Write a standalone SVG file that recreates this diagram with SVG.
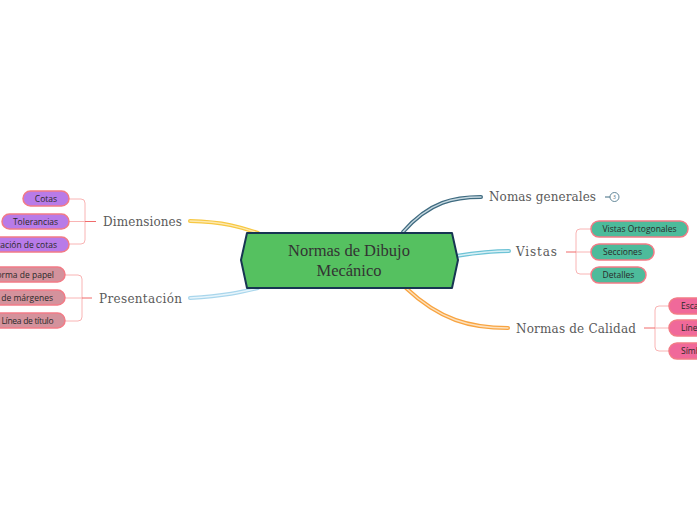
<svg xmlns="http://www.w3.org/2000/svg" width="697" height="520" viewBox="0 0 697 520">
<defs>
<style>
.bo{fill:none;stroke-width:4;stroke-linecap:round}
.bi{fill:none;stroke-width:1.4;stroke-linecap:round}
.lbl{font-family:"DejaVu Serif",serif;font-size:12px;fill:#5a5a5a}
.ct{font-family:"Open Sans","Noto Sans",sans-serif;font-size:8.5px;fill:#2a2a2a}
.br{fill:none;stroke:#f9b4b4;stroke-width:1}
.bm{fill:none;stroke:#f06b6b;stroke-width:1}
.ch{stroke:#f27b86;stroke-width:1.5}
.pu{fill:#b87be8}
.rs{fill:#d4929c}
.te{fill:#4dbb9b}
.pk{fill:#f0699a}
</style>
</defs>
<rect width="697" height="520" fill="#ffffff"/>
<g id="connectors">
<path class="bo" stroke="#f7c843" d="M190,221 C225,222 240,227 258,233"/>
<path class="bi" stroke="#fde9b0" d="M190,221 C225,222 240,227 258,233"/>
<path class="bo" stroke="#a9d6ec" d="M190,298 C225,296 242,292 258,288"/>
<path class="bi" stroke="#e6f4fb" d="M190,298 C225,296 242,292 258,288"/>
<path class="bo" stroke="#3f6b80" d="M403,232 C430,201 455,197 481,197"/>
<path class="bi" stroke="#c6d8e0" d="M403,232 C430,201 455,197 481,197"/>
<path class="bo" stroke="#6ec3d6" d="M456,256 C475,253 490,251 509,251"/>
<path class="bi" stroke="#d8f0f5" d="M456,256 C475,253 490,251 509,251"/>
<path class="bo" stroke="#f8a441" d="M406,288 C440,320 470,328 508,328"/>
<path class="bi" stroke="#fde1bd" d="M406,288 C440,320 470,328 508,328"/>
<path class="br" d="M69,199 H81 Q85,199 85,203 V240 Q85,244 81,244 H69 M69,221.5 H85"/>
<path class="bm" d="M85,221.5 H96"/>
<path class="br" d="M65,275 H78 Q82,275 82,279 V317 Q82,321 78,321 H65 M65,298 H82"/>
<path class="bm" d="M82,298 H92"/>
<path class="br" d="M591,229 H580 Q576,229 576,233 V270 Q576,274 580,274 H591 M576,252 H591"/>
<path class="bm" d="M566,252 H576"/>
<path class="br" d="M669,306 H659 Q655,306 655,310 V347 Q655,351 659,351 H669 M655,328 H669"/>
<path class="bm" d="M644,328 H655"/>
<path d="M605,197 H610" stroke="#3f6b80" stroke-width="1"/>
</g>
<g id="center">
<polygon points="247,233 452,233 458,260 452,288 247,288 241,260" fill="#55c160" stroke="#173552" stroke-width="2" stroke-linejoin="round"/>
<text x="349" y="256" text-anchor="middle" font-family="Liberation Serif, serif" font-size="16.5" fill="#333">Normas de Dibujo</text>
<text x="349" y="276" text-anchor="middle" font-family="Liberation Serif, serif" font-size="16.5" fill="#333">Mecánico</text>
</g>
<g id="dimensiones">
<text class="lbl" x="103" y="226" textLength="79">Dimensiones</text>
</g>
<g id="cotas"><rect class="pu ch" x="23" y="191" width="46" height="15" rx="7.5"/><text class="ct" x="46" y="201.5" text-anchor="middle">Cotas</text></g>
<g id="tolerancias"><rect class="pu ch" x="2" y="214" width="67" height="15" rx="7.5"/><text class="ct" x="35.5" y="224.5" text-anchor="middle">Tolerancias</text></g>
<g id="colocacion"><rect class="pu ch" x="-40" y="237" width="109" height="15" rx="7.5"/><text class="ct" x="57" y="247.5" text-anchor="end">Colocación de cotas</text></g>
<g id="presentacion">
<text class="lbl" x="99" y="303" textLength="83">Presentación</text>
</g>
<g id="norma-papel"><rect class="rs ch" x="-40" y="267" width="105" height="15" rx="7.5"/><text class="ct" x="54" y="277.5" text-anchor="end">Norma de papel</text></g>
<g id="margenes"><rect class="rs ch" x="-40" y="290" width="105" height="15" rx="7.5"/><text class="ct" x="53" y="300.5" text-anchor="end">Líneas de márgenes</text></g>
<g id="linea-titulo"><rect class="rs ch" x="-12" y="313" width="77" height="15" rx="7.5"/><text class="ct" x="1.5" y="323.5" textLength="52">Línea de título</text></g>
<g id="nomas-generales">
<text class="lbl" x="489" y="201" textLength="107">Nomas generales</text>
<circle cx="614.5" cy="197" r="4.5" fill="#fff" stroke="#3f6b80" stroke-width="0.8"/>
<text x="614.5" y="199" text-anchor="middle" font-family="Open Sans, sans-serif" font-size="5" fill="#3f6b80">3</text>
</g>
<g id="vistas">
<text class="lbl" x="516" y="256" textLength="41">Vistas</text>
</g>
<g id="vistas-ortogonales"><rect class="te ch" x="591" y="221" width="97" height="16" rx="8"/><text class="ct" x="639.5" y="232" text-anchor="middle">Vistas Ortogonales</text></g>
<g id="secciones"><rect class="te ch" x="591" y="244" width="63" height="16" rx="8"/><text class="ct" x="622.5" y="255" text-anchor="middle">Secciones</text></g>
<g id="detalles"><rect class="te ch" x="591" y="267" width="55" height="16" rx="8"/><text class="ct" x="618.5" y="278" text-anchor="middle">Detalles</text></g>
<g id="normas-calidad">
<text class="lbl" x="516" y="333" textLength="120">Normas de Calidad</text>
</g>
<g id="escalas"><rect class="pk ch" x="669" y="298" width="60" height="16" rx="8"/><text class="ct" x="681" y="309">Escalas</text></g>
<g id="lineas"><rect class="pk ch" x="669" y="320" width="60" height="16" rx="8"/><text class="ct" x="681" y="331">Líneas</text></g>
<g id="simbolos"><rect class="pk ch" x="669" y="343" width="60" height="16" rx="8"/><text class="ct" x="681" y="354">Símbolos</text></g>
</svg>
